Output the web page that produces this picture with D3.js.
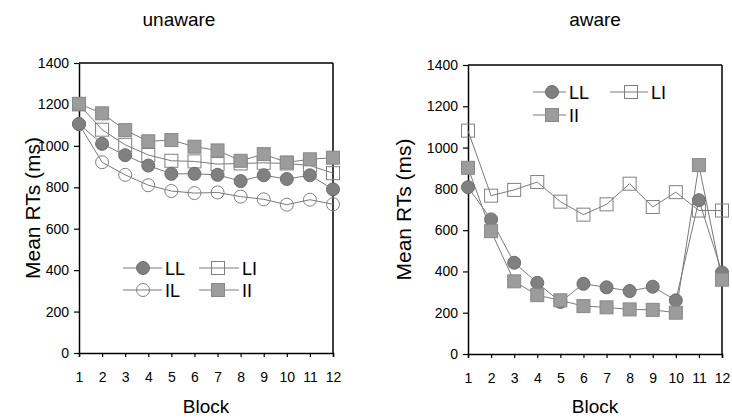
<!DOCTYPE html>
<html>
<head>
<meta charset="utf-8">
<script src="https://cdn.jsdelivr.net/npm/d3@7"></script>
<style>
  body { margin: 0; background: #fff; }
  svg { display: block; font-family: "Liberation Sans", Arial, sans-serif; }
</style>
</head>
<body>
<div id="chart"></div>
<script>
// Дані з рисунку
const blocks = [1, 2, 3, 4, 5, 6, 7, 8, 9, 10, 11, 12];
const yTicks = [0, 200, 400, 600, 800, 1000, 1200, 1400];

const unawareLL = [1105, 1010, 955, 905, 865, 865, 860, 830, 858, 840, 858, 790];
const unawareLI = [1200, 1078, 1005, 956, 928, 925, 912, 915, 918, 915, 905, 868];
const unawareIL = [1105, 921, 860, 810, 782, 772, 775, 755, 742, 716, 740, 718];
const unawareII = [1203, 1157, 1076, 1022, 1028, 996, 978, 928, 960, 920, 935, 943];

const awareLL = [808, 652, 442, 345, 252, 340, 323, 305, 326, 260, 745, 395];
const awareLI = [1082, 767, 795, 833, 738, 675, 725, 825, 712, 784, 695, 695];
const awareII = [902, 595, 352, 285, 260, 232, 226, 216, 214, 200, 915, 360];

const W = 732, H = 419;

const svg = d3.select("#chart").append("svg")
    .attr("width", W)
    .attr("height", H);

// стилі маркерів
const styles = {
    LL: {shape: "circle", fill: "#808080", stroke: "#6e6e6e"},
    IL: {shape: "circle", fill: "none", stroke: "#808080"},
    LI: {shape: "square", fill: "none", stroke: "#808080"},
    II: {shape: "square", fill: "#9c9c9c", stroke: "#888"}
};

function drawMarker(g, x, y, key) {
    const s = styles[key];
    if (s.shape === "circle") {
        g.append("circle").attr("cx", x).attr("cy", y).attr("r", 6.5)
            .attr("fill", s.fill).attr("stroke", s.stroke).attr("stroke-width", 1);
    } else {
        g.append("rect").attr("x", x - 6.5).attr("y", y - 6.5)
            .attr("width", 13).attr("height", 13)
            .attr("fill", s.fill).attr("stroke", s.stroke).attr("stroke-width", 1);
    }
}

function drawPanel(p) {
    const g = svg.append("g");
    const xScale = d3.scalePoint().domain(blocks).range([p.left, p.right]);
    const yScale = d3.scaleLinear().domain([0, 1400]).range([p.bottom, p.top]);

    // рамка
    g.append("line").attr("x1", p.left).attr("x2", p.right).attr("y1", p.top).attr("y2", p.top)
        .attr("stroke", "#000").attr("stroke-width", 1.5);
    g.append("line").attr("x1", p.right).attr("x2", p.right).attr("y1", p.top).attr("y2", p.bottom)
        .attr("stroke", "#000").attr("stroke-width", 1.5);

    const xAxis = g.append("g").attr("transform", `translate(0,${p.bottom})`)
        .call(d3.axisBottom(xScale).tickSize(4).tickPadding(15));
    const yAxis = g.append("g").attr("transform", `translate(${p.left},0)`)
        .call(d3.axisLeft(yScale).tickValues(yTicks).tickFormat(d3.format("d"))
            .tickSize(5).tickPadding(5).tickSizeOuter(0));
    [xAxis, yAxis].forEach(a => {
        a.select(".domain").attr("stroke", "#000").attr("stroke-width", 1.5);
        a.selectAll(".tick line").attr("stroke", "#000").attr("stroke-width", 1.2);
        a.selectAll("text").attr("fill", "#000").style("font-size", "14px")
            .style("font-family", "Liberation Sans, Arial, sans-serif");
    });

    // лінії
    const lineGen = d3.line().x((d, i) => xScale(blocks[i])).y(d => yScale(d));
    p.series.forEach(s => {
        g.append("path").datum(s.values).attr("d", lineGen)
            .attr("fill", "none").attr("stroke", "#7a7a7a").attr("stroke-width", 1);
    });
    // маркери
    p.series.forEach(s => {
        s.values.forEach((v, i) => drawMarker(g, xScale(blocks[i]), yScale(v), s.key));
    });

    // легенда
    p.legend.forEach(l => {
        g.append("line").attr("x1", l.x1).attr("x2", l.x2).attr("y1", l.y).attr("y2", l.y)
            .attr("stroke", "#7a7a7a").attr("stroke-width", 1);
        drawMarker(g, l.mx, l.y, l.key);
        g.append("text").attr("x", l.x2 + 3).attr("y", l.y + 6.5).text(l.key)
            .style("font-size", "18px").attr("fill", "#000");
    });

    // заголовок та підписи осей
    svg.append("text").attr("x", p.titleX).attr("y", 26).attr("text-anchor", "middle")
        .style("font-size", "19px").text(p.title);
    svg.append("text").attr("x", (p.left + p.right) / 2).attr("y", 413).attr("text-anchor", "middle")
        .style("font-size", "19px").text("Block");
    svg.append("text")
        .attr("transform", `translate(${p.labelX},${(p.top + p.bottom) / 2}) rotate(-90)`)
        .attr("text-anchor", "middle")
        .style("font-size", "21px").text("Mean RTs (ms)");
}

drawPanel({
    left: 79, right: 333, top: 63, bottom: 353,
    title: "unaware", titleX: 179, labelX: 40,
    series: [
        {key: "IL", values: unawareIL},
        {key: "LI", values: unawareLI},
        {key: "LL", values: unawareLL},
        {key: "II", values: unawareII}
    ],
    legend: [
        {key: "LL", x1: 123, x2: 162, mx: 143, y: 268},
        {key: "LI", x1: 199, x2: 239, mx: 218, y: 268},
        {key: "IL", x1: 123, x2: 162, mx: 143, y: 290},
        {key: "II", x1: 199, x2: 239, mx: 218, y: 290}
    ]
});

drawPanel({
    left: 468, right: 722, top: 65, bottom: 354,
    title: "aware", titleX: 595, labelX: 411,
    series: [
        {key: "LI", values: awareLI},
        {key: "LL", values: awareLL},
        {key: "II", values: awareII}
    ],
    legend: [
        {key: "LL", x1: 533, x2: 566, mx: 552, y: 92},
        {key: "LI", x1: 610, x2: 648, mx: 631, y: 92},
        {key: "II", x1: 533, x2: 566, mx: 552, y: 115}
    ]
});
</script>
</body>
</html>
